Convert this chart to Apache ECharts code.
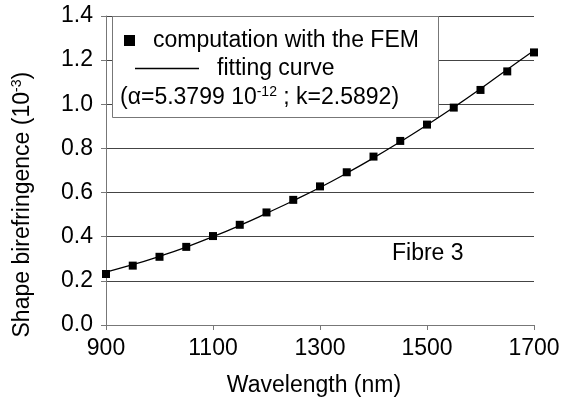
<!DOCTYPE html>
<html>
<head>
<meta charset="utf-8">
<script src="https://cdn.jsdelivr.net/npm/echarts@6/dist/echarts.min.js"></script>
<style>
html, body { margin: 0; padding: 0; background: #fff; }
#chart { width: 566px; height: 405px; }
</style>
</head>
<body>
<div id="chart"></div>
<script>
var dom = document.getElementById("chart");
var myChart = echarts.init(dom);

// wavelength (nm)
var wavelengths = [900, 950, 1000, 1050, 1100, 1150, 1200, 1250, 1300, 1350, 1400, 1450, 1500, 1550, 1600, 1650, 1700];
// FEM points (10^-3)
var femValues = [0.231, 0.269, 0.309, 0.354, 0.403, 0.454, 0.510, 0.567, 0.628, 0.692, 0.763, 0.834, 0.908, 0.985, 1.065, 1.149, 1.235];
// fitting curve
var fitValues = [0.240, 0.273, 0.311, 0.353, 0.400, 0.451, 0.506, 0.563, 0.623, 0.688, 0.757, 0.830, 0.906, 0.986, 1.070, 1.158, 1.244];

var FONT = 'Liberation Sans';
var femData = [];
var fitData = [];
for (var i = 0; i < wavelengths.length; i++) {
	femData.push([wavelengths[i], femValues[i]]);
	fitData.push([wavelengths[i], fitValues[i]]);
}

var option = {
	animation: false,
	textStyle: { fontFamily: FONT, color: '#000' },
	grid: { left: 106, right: 32, top: 16, bottom: 80 },
	legend: [
		{
			data: ['computation with the FEM'],
			left: 124, top: 29, padding: 0, z: 10,
			icon: 'rect', itemWidth: 11, itemHeight: 11,
			itemStyle: { color: '#000', opacity: 1 },
			textStyle: { fontFamily: FONT, fontSize: 23, color: '#000', padding: [0, 0, 0, 13] }
		},
		{
			data: ['fitting curve'],
			left: 135, top: 57, padding: 0, z: 10,
			icon: 'rect', itemWidth: 64, itemHeight: 1.5,
			itemStyle: { color: '#000', opacity: 1 },
			textStyle: { fontFamily: FONT, fontSize: 23, color: '#000', padding: [0, 0, 0, 13] }
		}
	],
	xAxis: {
		type: 'value',
		min: 900, max: 1700, interval: 200,
		name: 'Wavelength (nm)',
		nameLocation: 'middle',
		nameGap: 49,
		nameTextStyle: { fontFamily: FONT, fontSize: 23, color: '#000', padding: [0, 12, 0, 0] },
		axisLine: { lineStyle: { color: '#777', width: 1 } },
		axisTick: { show: true, length: 5, lineStyle: { color: '#777' } },
		axisLabel: {
			margin: 12, fontFamily: FONT, fontSize: 23, color: '#000',
			formatter: function (v) { return String(v); }
		},
		splitLine: { show: false }
	},
	yAxis: {
		type: 'value',
		min: 0, max: 1.4, interval: 0.2,
		name: 'Shape birefringence (10{sup|-3}) ',
		nameLocation: 'middle',
		nameGap: 70,
		nameTextStyle: {
			fontFamily: FONT, fontSize: 23, color: '#000', padding: [0, 62, 0, 0],
			rich: { sup: { fontFamily: FONT, fontSize: 14, color: '#000', verticalAlign: 'top', padding: [0, 0, 12, 0] } }
		},
		axisLine: { show: true, lineStyle: { color: '#777', width: 1 } },
		axisTick: { show: true, length: 5, lineStyle: { color: '#777' } },
		axisLabel: {
			margin: 13, fontFamily: FONT, fontSize: 23, color: '#000',
			formatter: function (v) { return v.toFixed(1); }
		},
		splitLine: { show: true, lineStyle: { color: '#444', width: 1 } }
	},
	graphic: [
		{
			type: 'rect', z: 1,
			shape: { x: 112.5, y: 16.5, width: 326, height: 101 },
			style: { fill: '#fff', stroke: '#777', lineWidth: 1 }
		},
		{
			type: 'text', z: 6, left: 120, top: 85,
			style: {
				text: '(α=5.3799 10{sup|-12} ; k=2.5892)',
				fontFamily: FONT, fontSize: 23, fill: '#000',
				rich: { sup: { fontFamily: FONT, fontSize: 14, fill: '#000', verticalAlign: 'top', padding: [0, 0, 12, 0] } }
			}
		},
		{
			type: 'text', z: 6, left: 392, top: 242,
			style: { text: 'Fibre 3', fontFamily: FONT, fontSize: 23, fill: '#000' }
		}
	],
	series: [
		{
			name: 'fitting curve',
			type: 'line',
			data: fitData,
			smooth: true,
			symbol: 'none',
			lineStyle: { color: '#000', width: 1.3 },
			itemStyle: { color: '#000' },
			z: 3
		},
		{
			name: 'computation with the FEM',
			type: 'scatter',
			data: femData,
			symbol: 'rect',
			symbolSize: 8,
			itemStyle: { color: '#000', opacity: 1 },
			z: 4
		}
	]
};

myChart.setOption(option);
</script>
</body>
</html>
